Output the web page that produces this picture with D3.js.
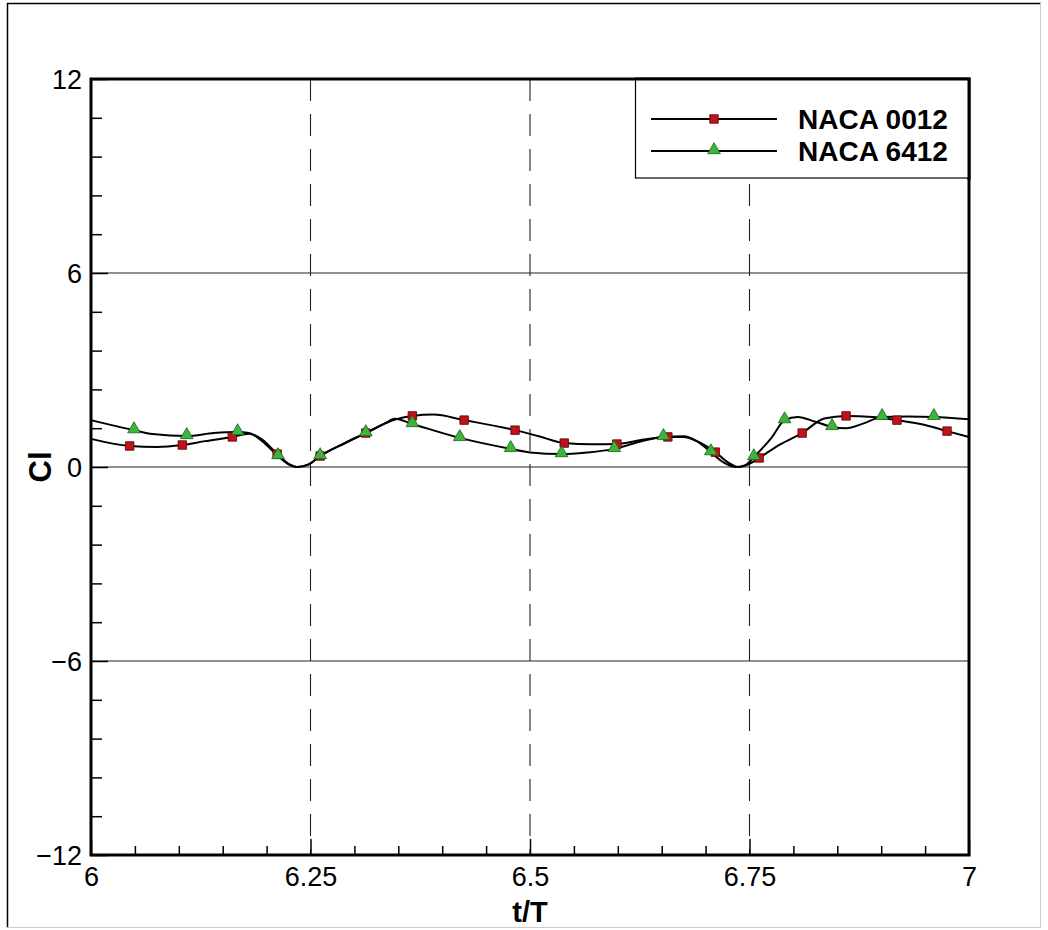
<!DOCTYPE html>
<html>
<head>
<meta charset="utf-8">
<script src="https://cdn.jsdelivr.net/npm/d3@7"></script>
<style>
  body { margin: 0; background: #fff; }
  text { font-family: "Liberation Sans", Arial, sans-serif; }
</style>
</head>
<body>
<script>
// NACA 0012 curve (t/T, Cl)
let naca0012 = [
  [6.0, 0.87], [6.044, 0.65], [6.075, 0.62], [6.104, 0.68], [6.13, 0.8], [6.161, 0.93],
  [6.18, 1.03], [6.195, 0.85], [6.212, 0.40], [6.225, 0.1], [6.236, 0.0], [6.248, 0.08],
  [6.261, 0.34], [6.29, 0.75], [6.313, 1.05], [6.335, 1.35], [6.348, 1.48], [6.366, 1.58],
  [6.39, 1.62], [6.425, 1.45], [6.483, 1.14], [6.51, 0.95], [6.539, 0.74], [6.57, 0.70],
  [6.599, 0.71], [6.63, 0.85], [6.657, 0.93], [6.675, 0.93], [6.69, 0.8], [6.711, 0.46],
  [6.725, 0.15], [6.737, 0.0], [6.75, 0.1], [6.761, 0.28], [6.785, 0.7], [6.81, 1.05],
  [6.835, 1.5], [6.86, 1.58], [6.89, 1.55], [6.918, 1.45], [6.95, 1.3], [6.975, 1.11], [7.0, 0.93]
]
let naca0012Markers = [
  [6.044, 0.65], [6.104, 0.68], [6.161, 0.93], [6.212, 0.40], [6.261, 0.34], [6.313, 1.05],
  [6.366, 1.58], [6.425, 1.45], [6.483, 1.14], [6.539, 0.74], [6.599, 0.71], [6.657, 0.93],
  [6.711, 0.46], [6.761, 0.28], [6.81, 1.05], [6.86, 1.58], [6.918, 1.45], [6.975, 1.11]
]

// NACA 6412 curve
let naca6412 = [
  [6.0, 1.45], [6.049, 1.14], [6.07, 1.02], [6.109, 0.96], [6.14, 1.05], [6.167, 1.08],
  [6.18, 1.05], [6.195, 0.8], [6.213, 0.34], [6.225, 0.08], [6.234, 0.0], [6.248, 0.08],
  [6.261, 0.34], [6.29, 0.75], [6.313, 1.05], [6.335, 1.35], [6.346, 1.49], [6.366, 1.33],
  [6.42, 0.90], [6.478, 0.56], [6.5, 0.45], [6.536, 0.40], [6.565, 0.45], [6.596, 0.56],
  [6.63, 0.82], [6.652, 0.93], [6.675, 0.95], [6.69, 0.8], [6.706, 0.46], [6.72, 0.15],
  [6.734, 0.0], [6.745, 0.05], [6.755, 0.31], [6.775, 0.9], [6.79, 1.45], [6.805, 1.55],
  [6.825, 1.4], [6.844, 1.24], [6.86, 1.2], [6.88, 1.35], [6.901, 1.55], [6.93, 1.56],
  [6.96, 1.55], [7.0, 1.48]
]
let naca6412Markers = [
  [6.049, 1.14], [6.109, 0.96], [6.167, 1.08], [6.213, 0.34], [6.261, 0.34], [6.313, 1.05],
  [6.366, 1.33], [6.42, 0.90], [6.478, 0.56], [6.536, 0.40], [6.596, 0.56], [6.652, 0.93],
  [6.706, 0.46], [6.755, 0.31], [6.79, 1.45], [6.844, 1.24], [6.901, 1.55], [6.96, 1.55]
]

let xTicks = [6, 6.25, 6.5, 6.75, 7]
let xTickLabels = ["6", "6.25", "6.5", "6.75", "7"]
let xMinorTicks = [6.05, 6.1, 6.15, 6.2, 6.3, 6.35, 6.4, 6.45, 6.55, 6.6, 6.65, 6.7, 6.8, 6.85, 6.9, 6.95]
let yTicks = [-12, -6, 0, 6, 12]
let yMinorTicks = [-10.8, -9.6, -8.4, -7.2, -4.8, -3.6, -2.4, -1.2, 1.2, 2.4, 3.6, 4.8, 7.2, 8.4, 9.6, 10.8]
let gridY = [-6, 0, 6]
let gridX = [6.25, 6.5, 6.75]
let seriesNames = ["NACA 0012", "NACA 6412"]

let width = 1048
let height = 930

let svg = d3.select("body")
  .append("svg")
  .attr("width", width)
  .attr("height", height)

// outer frame
svg.append("line").attr("x1", 7).attr("x2", 1041).attr("y1", 3.5).attr("y2", 3.5)
  .style("stroke", "#000").style("stroke-width", 1.5)
svg.append("line").attr("x1", 7.5).attr("x2", 7.5).attr("y1", 3).attr("y2", 928)
  .style("stroke", "#000").style("stroke-width", 1.5)
svg.append("line").attr("x1", 7).attr("x2", 1041).attr("y1", 927.5).attr("y2", 927.5)
  .style("stroke", "#ccc")
svg.append("line").attr("x1", 1040.5).attr("x2", 1040.5).attr("y1", 3).attr("y2", 928)
  .style("stroke", "#ccc")

//scales
let x = d3.scaleLinear()
  .domain([6, 7])
  .range([91, 969])

let y = d3.scaleLinear()
  .domain([-12, 12])
  .range([855, 79])

// grid
svg.selectAll(".gridY")
  .data(gridY)
  .enter()
  .append("line")
  .attr("x1", x(6)).attr("x2", x(7))
  .attr("y1", d => y(d)).attr("y2", d => y(d))
  .style("stroke", "#222")
  .style("stroke-width", 1.1)

svg.selectAll(".gridX")
  .data(gridX)
  .enter()
  .append("line")
  .attr("x1", d => x(d)).attr("x2", d => x(d))
  .attr("y1", y(12)).attr("y2", y(-12))
  .style("stroke", "#222")
  .style("stroke-width", 1.1)
  .style("stroke-dasharray", "22,13")

// axes (inward ticks)
let gxMinor = svg.append("g").attr("transform", `translate(0,${y(-12)})`)
  .call(d3.axisBottom(x).tickValues(xMinorTicks).tickSize(-9).tickFormat(""))
let gx = svg.append("g").attr("transform", `translate(0,${y(-12)})`)
  .call(d3.axisBottom(x).tickValues(xTicks).tickSize(-16).tickPadding(12)
    .tickFormat((d, i) => xTickLabels[i]))

let gyMinor = svg.append("g").attr("transform", `translate(${x(6)},0)`)
  .call(d3.axisLeft(y).tickValues(yMinorTicks).tickSize(-11).tickFormat(""))
let gy = svg.append("g").attr("transform", `translate(${x(6)},0)`)
  .call(d3.axisLeft(y).tickValues(yTicks).tickSize(-17).tickPadding(9))

svg.selectAll(".domain").remove()
svg.selectAll(".tick line").attr("stroke", "#000").attr("stroke-width", 1.5)
svg.selectAll(".tick text").attr("fill", "#000").style("font-size", "27px")
svg.selectAll("g").attr("font-family", null).attr("font-size", null)
gx.selectAll(".tick text").attr("dy", "0.71em")
gy.selectAll(".tick text").attr("dy", "0.36em")

// frame of plot area
svg.append("rect")
  .attr("x", x(6)).attr("y", y(12))
  .attr("width", x(7) - x(6)).attr("height", y(-12) - y(12))
  .style("fill", "none")
  .style("stroke", "#000")
  .style("stroke-width", 3)

// lines
let line = d3.line()
  .x(d => x(d[0]))
  .y(d => y(d[1]))
  .curve(d3.curveMonotoneX)

let plot = svg.append("g")

plot.append("path").datum(naca0012).attr("d", line)
  .style("fill", "none").style("stroke", "#000").style("stroke-width", 2)
plot.append("path").datum(naca6412).attr("d", line)
  .style("fill", "none").style("stroke", "#000").style("stroke-width", 2)

let square = d3.symbol().type(d3.symbolSquare).size(72)
let triangle = d3.symbol().type(d3.symbolTriangle).size(70)

plot.selectAll(".m0012")
  .data(naca0012Markers)
  .enter()
  .append("path")
  .attr("d", square)
  .attr("transform", d => `translate(${x(d[0])},${y(d[1])})`)
  .style("fill", "#c0121b")
  .style("stroke", "#5a0000")
  .style("stroke-width", 0.8)

plot.selectAll(".m6412")
  .data(naca6412Markers)
  .enter()
  .append("path")
  .attr("d", triangle)
  .attr("transform", d => `translate(${x(d[0])},${y(d[1]) - 1})`)
  .style("fill", "#3cb53c")
  .style("stroke", "#1d5e1d")
  .style("stroke-width", 0.8)

// legend
let legend = svg.append("g")
legend.append("rect")
  .attr("x", 635.5).attr("y", y(12))
  .attr("width", x(7) - 635.5).attr("height", 178 - y(12))
  .style("fill", "#fff")
  .style("stroke", "#000")
  .style("stroke-width", 1.2)
// re-draw plot frame over legend box
svg.append("line").attr("x1", 635).attr("x2", x(7) + 1.5).attr("y1", y(12)).attr("y2", y(12))
  .style("stroke", "#000").style("stroke-width", 3)
svg.append("line").attr("x1", x(7)).attr("x2", x(7)).attr("y1", y(12)).attr("y2", 180)
  .style("stroke", "#000").style("stroke-width", 3)

let legendRows = [119, 151]
seriesNames.forEach((name, i) => {
  let ly = legendRows[i]
  legend.append("line")
    .attr("x1", 651).attr("x2", 777).attr("y1", ly).attr("y2", ly)
    .style("stroke", "#000").style("stroke-width", 2)
  legend.append("path")
    .attr("d", i == 0 ? square : triangle)
    .attr("transform", `translate(714,${i == 0 ? ly : ly - 1})`)
    .style("fill", i == 0 ? "#c0121b" : "#3cb53c")
    .style("stroke", i == 0 ? "#5a0000" : "#1d5e1d")
    .style("stroke-width", 0.8)
  legend.append("text")
    .attr("x", 798).attr("y", ly + 10)
    .text(name)
    .style("font-size", "28px")
    .style("font-weight", "bold")
})

// axis titles
svg.append("text")
  .attr("x", x(6.5)).attr("y", 922)
  .attr("text-anchor", "middle")
  .text("t/T")
  .style("font-size", "29px")
  .style("font-weight", "bold")

svg.append("text")
  .attr("transform", `translate(51,${y(0)}) rotate(-90)`)
  .attr("text-anchor", "middle")
  .text("Cl")
  .style("font-size", "31px")
  .style("font-weight", "bold")
</script>
</body>
</html>
